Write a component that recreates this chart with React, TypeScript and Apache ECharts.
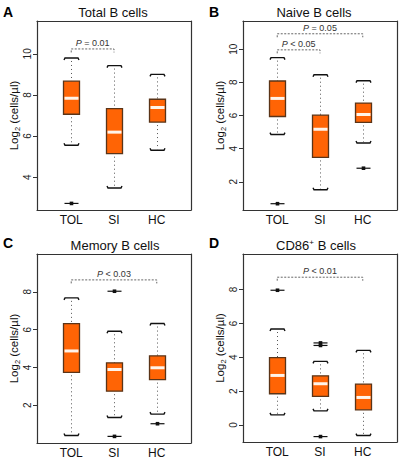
import React, { useEffect, useRef } from "react";
import * as echarts from "echarts";

const groups = ["TOL", "SI", "HC"];

// [lower whisker, Q1, median, Q3, upper whisker]
const totalB = [
  [5.55, 7.06, 7.84, 8.67, 9.8],
  [3.47, 5.14, 6.19, 7.33, 9.43],
  [5.31, 6.68, 7.39, 7.79, 9.0],
];
const naiveB = [
  [4.85, 5.94, 7.03, 8.08, 9.49],
  [1.52, 3.47, 5.17, 6.02, 8.46],
  [4.34, 5.58, 6.06, 6.75, 8.1],
];
const memoryB = [
  [0.4, 3.74, 4.87, 6.32, 7.68],
  [1.35, 2.74, 3.89, 4.24, 5.91],
  [1.53, 3.35, 3.98, 4.61, 6.32],
];
const cd86B = [
  [0.6, 1.85, 2.93, 3.98, 5.67],
  [0.84, 1.69, 2.44, 2.91, 3.76],
  [-0.62, 0.9, 1.63, 2.42, 4.41],
];

// outliers: [group position (1-based), value]
const totalBOut = [[1, 2.72]];
const naiveBOut = [[1, 0.68], [3, 2.82]];
const memoryBOut = [[2, 8.03], [2, 0.35], [3, 1.02]];
const cd86BOut = [[1, 7.96], [2, 4.85], [2, 4.7], [2, -0.68]];

// brackets: [from group, to group, height, p-text]
const totalBP = [[1, 2, 10.24, "= 0.01"]];
const naiveBP = [[1, 2, 9.96, "< 0.05"], [1, 3, 10.93, "= 0.05"]];
const memoryBP = [[1, 3, 8.63, "< 0.03"]];
const cd86BP = [[1, 3, 8.73, "< 0.01"]];

const panelTitles = ["Total B cells", "Naive B cells", "Memory B cells", "CD86{sup|+} B cells"];
const panelLetters = ["A", "B", "C", "D"];
const yTicks = [[4, 6, 8, 10], [2, 4, 6, 8, 10], [2, 4, 6, 8], [0, 2, 4, 6, 8]];
const yRanges = [[2.4, 11.6], [0.3, 11.7], [0, 10], [-1, 10.1]];

const FONT = "'Liberation Sans', Arial, Helvetica, sans-serif";

export default function App() {
  const ref = useRef<HTMLDivElement>(null);
  useEffect(() => {
    document.body.style.margin = "0";
    if (!ref.current) return;
    const chart = echarts.init(ref.current, null, { renderer: "svg" });

    const boxes = [totalB, naiveB, memoryB, cd86B];
    const outs = [totalBOut, naiveBOut, memoryBOut, cd86BOut];
    const brackets = [totalBP, naiveBP, memoryBP, cd86BP];

    const grids = [
      { left: 37, top: 21, width: 154, height: 189 },
      { left: 243, top: 21, width: 154, height: 189 },
      { left: 37, top: 254, width: 154, height: 189 },
      { left: 243, top: 254, width: 154, height: 188 },
    ];

    const frameAxis = { show: true, lineStyle: { color: "#333", width: 1.2 }, onZero: false };

    const xAxes: any[] = [];
    const yAxes: any[] = [];
    grids.forEach((_, i) => {
      xAxes.push({
        type: "value",
        gridIndex: i,
        min: 0.2,
        max: 3.8,
        splitLine: { show: false },
        axisLine: frameAxis,
        axisTick: { show: false },
        axisLabel: {
          customValues: [1, 2, 3],
          formatter: (v: number) => groups[Math.round(v) - 1] ?? "",
          color: "#111",
          fontSize: 12,
          fontFamily: FONT,
          margin: 4,
        },
      });
      xAxes.push({
        type: "value",
        gridIndex: i,
        position: "top",
        min: 0.2,
        max: 3.8,
        splitLine: { show: false },
        axisLine: frameAxis,
        axisTick: { show: false },
        axisLabel: { show: false },
      });
      yAxes.push({
        type: "value",
        gridIndex: i,
        min: yRanges[i][0],
        max: yRanges[i][1],
        splitLine: { show: false },
        axisLine: frameAxis,
        axisTick: { show: true, length: 4, customValues: yTicks[i], lineStyle: { color: "#333", width: 1 } },
        axisLabel: {
          customValues: yTicks[i],
          rotate: 90,
          color: "#222",
          fontSize: 10,
          fontFamily: FONT,
          margin: 5,
        },
        name: "Log{sub|2} (cells/µl)",
        nameLocation: "middle",
        nameRotate: 90,
        nameGap: 16,
        nameTextStyle: {
          color: "#111",
          fontSize: 11.5,
          fontFamily: FONT,
          rich: { sub: { fontSize: 7.5, verticalAlign: "bottom", padding: [6, 0, 0, 0], fontFamily: FONT, color: "#111" } },
        },
      });
      yAxes.push({
        type: "value",
        gridIndex: i,
        position: "right",
        min: yRanges[i][0],
        max: yRanges[i][1],
        splitLine: { show: false },
        axisLine: frameAxis,
        axisTick: { show: false },
        axisLabel: { show: false },
      });
    });

    const series: any[] = [];
    boxes.forEach((b, i) => {
      const xi = i * 2;
      const yi = i * 2;
      series.push({
        type: "custom",
        xAxisIndex: xi,
        yAxisIndex: yi,
        data: b.map((row, k) => [k + 1, ...row]),
        encode: { x: 0, y: [1, 2, 3, 4, 5] },
        renderItem: (params: any, api: any) => {
          const x = api.value(0);
          const lo = api.coord([x, api.value(1)]);
          const q1 = api.coord([x, api.value(2)]);
          const md = api.coord([x, api.value(3)]);
          const q3 = api.coord([x, api.value(4)]);
          const hi = api.coord([x, api.value(5)]);
          const cx = Math.round(lo[0]) + 0.5;
          const hw = 8;
          const cw = 7.5;
          const dotted = { stroke: "#555", lineWidth: 1, lineDash: [1, 3] };
          const cap = { stroke: "#111", lineWidth: 1.4, fill: "none" };
          return {
            type: "group",
            children: [
              { type: "line", shape: { x1: cx, y1: hi[1] + 3, x2: cx, y2: q3[1] }, style: dotted },
              { type: "line", shape: { x1: cx, y1: q1[1] + 3, x2: cx, y2: lo[1] - 1 }, style: dotted },
              {
                type: "polyline",
                shape: { points: [[cx - cw, hi[1] + 2], [cx - cw + 1, hi[1]], [cx + cw - 1, hi[1]], [cx + cw, hi[1] + 2]] },
                style: cap,
              },
              {
                type: "polyline",
                shape: { points: [[cx - cw, lo[1] - 2], [cx - cw + 1, lo[1]], [cx + cw - 1, lo[1]], [cx + cw, lo[1] - 2]] },
                style: cap,
              },
              {
                type: "rect",
                shape: { x: cx - hw, y: q3[1], width: hw * 2, height: q1[1] - q3[1] },
                style: { fill: "#FF6405", stroke: "#5a3418", lineWidth: 1.3 },
              },
              {
                type: "line",
                shape: { x1: cx - hw + 1, y1: md[1], x2: cx + hw - 1, y2: md[1] },
                style: { stroke: "#FFF4EA", lineWidth: 3 },
              },
            ],
          };
        },
      });
      series.push({
        type: "custom",
        xAxisIndex: xi,
        yAxisIndex: yi,
        data: outs[i],
        renderItem: (params: any, api: any) => {
          const p = api.coord([api.value(0), api.value(1)]);
          const cx = Math.round(p[0]) + 0.5;
          return {
            type: "group",
            children: [
              { type: "line", shape: { x1: cx - 7, y1: p[1], x2: cx + 7, y2: p[1] }, style: { stroke: "#111", lineWidth: 1.2 } },
              { type: "rect", shape: { x: cx - 1.8, y: p[1] - 1.8, width: 3.6, height: 3.6 }, style: { fill: "#111" } },
            ],
          };
        },
      });
      series.push({
        type: "custom",
        xAxisIndex: xi,
        yAxisIndex: yi,
        data: brackets[i],
        encode: { x: [0, 1], y: 2 },
        renderItem: (params: any, api: any) => {
          const a = api.coord([api.value(0), api.value(2)]);
          const b = api.coord([api.value(1), api.value(2)]);
          const txt = brackets[i][params.dataIndex][3];
          const ls = { stroke: "#666", lineWidth: 1, lineDash: [2, 1.5], fill: "none" };
          return {
            type: "group",
            children: [
              { type: "polyline", shape: { points: [[a[0], a[1] + 3.5], [a[0], a[1]], [b[0], b[1]], [b[0], b[1] + 3.5]] }, style: ls },
              {
                type: "text",
                style: {
                  x: (a[0] + b[0]) / 2,
                  y: a[1] - 1.5,
                  text: "{i|P} " + txt,
                  align: "center",
                  verticalAlign: "bottom",
                  fill: "#333",
                  fontSize: 9,
                  fontFamily: FONT,
                  rich: { i: { fontStyle: "italic", fontSize: 9, fontFamily: FONT, fill: "#333", color: "#333" } },
                },
              },
            ],
          };
        },
      });
    });

    const titleCenters = [[113, 12], [314, 12], [115, 245], [316, 245]];
    const letterPos = [[3, 12], [209, 12], [3, 243], [209, 243]];
    const graphic: any[] = [];
    panelTitles.forEach((t, i) => {
      graphic.push({
        type: "text",
        x: titleCenters[i][0],
        y: titleCenters[i][1],
        style: {
          text: t,
          align: "center",
          verticalAlign: "middle",
          fontSize: 13,
          fill: "#111",
          fontFamily: FONT,
          rich: { sup: { fontSize: 8, verticalAlign: "top", padding: [0, 0, 6, 0], fill: "#111", fontFamily: FONT } },
        },
      });
      graphic.push({
        type: "text",
        x: letterPos[i][0],
        y: letterPos[i][1],
        style: {
          text: panelLetters[i],
          verticalAlign: "middle",
          fontSize: 14,
          fontWeight: "bold",
          fill: "#000",
          fontFamily: FONT,
        },
      });
    });

    chart.setOption({
      animation: false,
      backgroundColor: "#fff",
      graphic,
      grid: grids,
      xAxis: xAxes,
      yAxis: yAxes,
      series,
    });
    return () => chart.dispose();
  }, []);
  return <div ref={ref} style={{ width: 403, height: 464 }} />;
}
